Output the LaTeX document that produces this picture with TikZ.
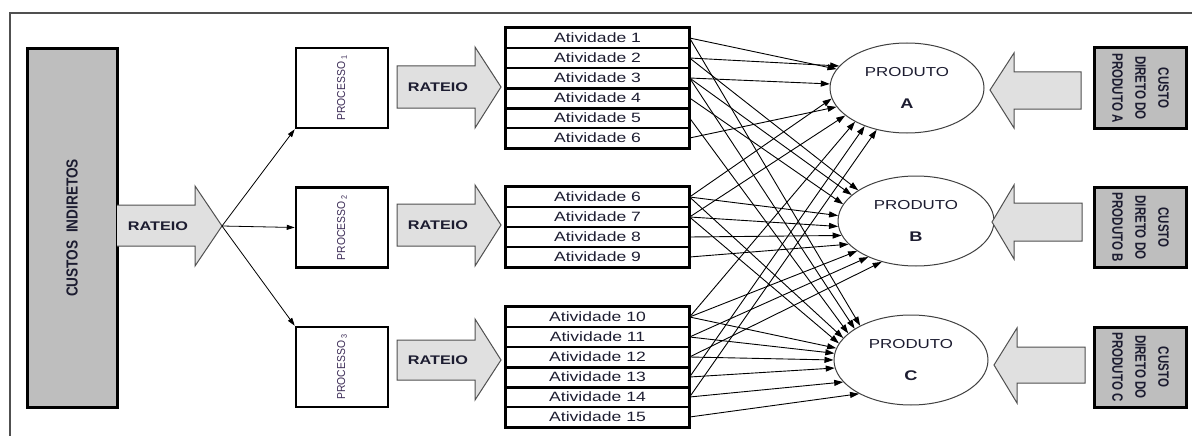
\documentclass[tikz,border=0pt]{standalone}
\usepackage{fontspec}
\usepackage{graphicx}
\setmainfont{Liberation Sans}
\newfontfamily\widefont{Liberation Sans}[FakeStretch=1.3]
\newfontfamily\condfont{Liberation Sans}[FakeStretch=0.85]
\newfontfamily\narrfont{Liberation Sans}[FakeStretch=0.77]
\newfontfamily\procfont{Liberation Sans}[FakeStretch=0.9]
\usetikzlibrary{shapes.geometric,arrows.meta}
\definecolor{txt}{HTML}{1C1C30}
\definecolor{procc}{HTML}{3E2E58}
\definecolor{darkfill}{HTML}{BEBEBE}
\definecolor{lightfill}{HTML}{E0E0E0}
\definecolor{arrline}{HTML}{505050}
\definecolor{ellline}{HTML}{404040}
\definecolor{framec}{HTML}{505050}
\newcommand\proctext[1]{\rotatebox{90}{\procfont\fontsize{11.5}{13}\selectfont PROCESSO\,\textsubscript{#1}}}
\newcommand\cdtext[1]{\rotatebox{-90}{\narrfont\bfseries\fontsize{15}{23}\selectfont\begin{tabular}{@{}c@{}}CUSTO\\DIRETO DO\\PRODUTO #1\end{tabular}}}
\begin{document}
\begin{tikzpicture}[x=1pt,y=-1pt,
  conn/.style={line width=0.9pt, -{Triangle[length=9pt,width=6pt]}},
  pconn/.style={line width=0.8pt, -{Triangle[length=8pt,width=5pt]}},
  blk/.style={fill=lightfill, draw=arrline, line width=1pt, line join=miter},
  darkbox/.style={draw, line width=3pt, fill=darkfill, inner sep=0pt, text=txt},
  cdbox/.style={darkbox, minimum width=92pt, minimum height=80pt},
  procbox/.style={draw, line width=2.5pt, fill=white, minimum width=92pt, minimum height=80pt, inner sep=0pt, text=procc},
  actrow/.style={draw, line width=1.2pt, minimum width=183pt, minimum height=20pt, inner sep=0pt, font=\widefont\fontsize{13.5}{14}\selectfont, text=txt},
  prod/.style={ellipse, draw=ellline, line width=1pt, inner sep=0pt, align=center, text=txt, font=\widefont\fontsize{13}{32}\selectfont},
  rtext/.style={font=\widefont\bfseries\fontsize{12.5}{14}\selectfont, text=txt},
  tablebox/.style={line width=3pt},
  sep/.style={line width=2pt}
]
\useasboundingbox (0,0) rectangle (1192,436);
\fill[white] (0,0) rectangle (1192,436);
% frame
\draw[framec, line width=1.5pt] (10,440) -- (10,13) -- (1195,13);

% custos indiretos
\node[darkbox, minimum width=90pt, minimum height=358pt] (ci) at (72,228)
  {\rotatebox{90}{\condfont\bfseries\fontsize{16}{18}\selectfont CUSTOS\ \ INDIRETOS}};

% rateio 0
\draw[blk] (117,205) -- (195,205) -- (195,186) -- (222,226) -- (195,266) -- (195,246) -- (117,246);
\node[rtext] (r0) at (158,226) {RATEIO};
\coordinate (r0tip) at (222,226);

% processes
\node[procbox] (p1) at (342,88) {\proctext{1}};
\node[procbox] (p2) at (342,227.5) {\proctext{2}};
\node[procbox] (p3) at (342,367) {\proctext{3}};
\draw[pconn] (r0tip) -- (p1.south west);
\draw[pconn] (r0tip) -- (p2.west);
\draw[pconn] (r0tip) -- (p3.north west);

% rateio arrows 1-3
\draw[blk] (397,66) -- (475,66) -- (475,47) -- (501,87) -- (475,128) -- (475,108) -- (397,108) -- cycle;
\node[rtext] (r1) at (438,87) {RATEIO};
\draw[blk] (397,204) -- (475,204) -- (475,185) -- (501,225) -- (475,266) -- (475,246) -- (397,246) -- cycle;
\node[rtext] (r2) at (438,225) {RATEIO};
\draw[blk] (397,340) -- (475,340) -- (475,319) -- (501,360) -- (475,400) -- (475,380) -- (397,380) -- cycle;
\node[rtext] (r3) at (438,360) {RATEIO};

% activity tables
\foreach \i/\y in {1/38,2/58,3/78,4/98,5/118,6/138}
  \node[actrow] (a\i) at (597.5,\y) {Atividade \i};
\draw[sep] (a3.south west) -- (a3.south east);
\draw[sep] (a4.south west) -- (a4.south east);
\draw[tablebox] (a1.north west) rectangle (a6.south east);
\foreach \i/\n/\y in {6/6/197,7/7/217,8/8/237,9/9/257}
  \node[actrow] (b\i) at (597.5,\y) {Atividade \n};
\draw[tablebox] (b6.north west) rectangle (b9.south east);
\foreach \i/\y in {10/317,11/337,12/357,13/377,14/397,15/417}
  \node[actrow] (c\i) at (597.5,\y) {Atividade \i};
\draw[sep] (c12.south west) -- (c12.south east);
\draw[sep] (c13.south west) -- (c13.south east);
\draw[tablebox] (c10.north west) rectangle (c15.south east);

% products
\node[prod, minimum width=154pt, minimum height=90pt] (A) at (907,88) {PRODUTO\\{\bfseries\fontsize{14}{32}\selectfont A}};
\node[prod, minimum width=156pt, minimum height=90pt] (B) at (916,221) {PRODUTO\\{\bfseries\fontsize{14}{32}\selectfont B}};
\node[prod, minimum width=154pt, minimum height=90pt] (C) at (911,360) {PRODUTO\\{\bfseries\fontsize{14}{32}\selectfont C}};

% activity -> product connectors
\foreach \s/\t in {a1/A.165, a2/A.162, a3/A.177, b6/A.188, a6/A.195, b7/A.204, c10/A.213, c13/A.222, c14/A.234,
                   a2/B.152, a3/B.158, a4/B.167, b6/B.176, b7/B.184, b8/B.191, b9/B.199, c10/B.207, c11/B.217, c12/B.230,
                   a1/C.146, a3/C.151, a5/C.157, b6/C.162, b7/C.167, c10/C.171, c11/C.175, c12/C.180, c13/C.186, c14/C.198, c15/C.213}
  \draw[conn] (\s.east) -- (\t);

% left-pointing block arrows
\draw[blk] (1081,72) -- (1014,72) -- (1014,53) -- (990,90) -- (1014,128) -- (1014,109) -- (1081,109) -- cycle;
\draw[blk] (1082,203) -- (1014,203) -- (1014,185) -- (992,222) -- (1014,259) -- (1014,241) -- (1082,241) -- cycle;
\draw[blk] (1085,347) -- (1017,347) -- (1017,328) -- (994,365) -- (1017,403) -- (1017,383) -- (1085,383) -- cycle;

% direct cost boxes
\node[cdbox] (dA) at (1140,88) {\cdtext{A}};
\node[cdbox] (dB) at (1140,227.5) {\cdtext{B}};
\node[cdbox] (dC) at (1140,367) {\cdtext{C}};
\end{tikzpicture}
\end{document}
